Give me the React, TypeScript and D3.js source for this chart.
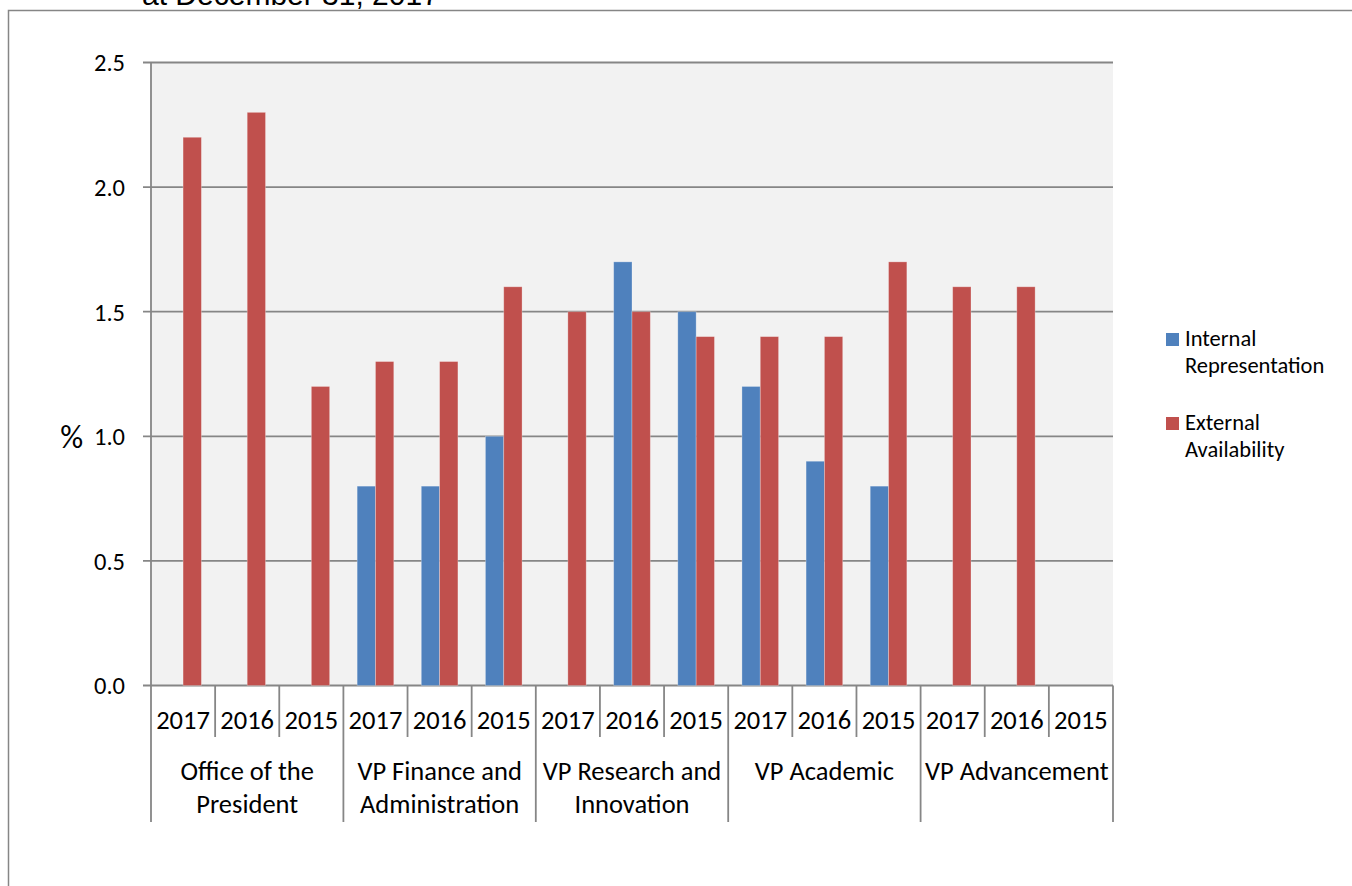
import React from "react";
import * as d3 from "d3";

const years = ["2017", "2016", "2015"];
const groupLines = [
  ["Office of the", "President"],
  ["VP Finance and", "Administration"],
  ["VP Research and", "Innovation"],
  ["VP Academic"],
  ["VP Advancement"],
];
const seriesNames = ["Internal Representation", "External Availability"];
const seriesColors = ["#4f81bd", "#c0504d"];
const internalRepresentation: (number | null)[] = [
  null, null, null,
  0.8, 0.8, 1.0,
  null, 1.7, 1.5,
  1.2, 0.9, 0.8,
  null, null, null,
];
const externalAvailability: (number | null)[] = [
  2.2, 2.3, 1.2,
  1.3, 1.3, 1.6,
  1.5, 1.5, 1.4,
  1.4, 1.4, 1.7,
  1.6, 1.6, null,
];
const yTicks = [0, 0.5, 1.0, 1.5, 2.0, 2.5];
const titleText = "at December 31, 2017";

const W = 1352;
const H = 886;
const plot = { left: 151, right: 1113, top: 62.5, bottom: 685.5 };
const GRID = "#868686";
const FONT = "Carlito, Calibri, Lato, sans-serif";

export default function App() {
  const cells = d3.range(groupLines.length * years.length);
  const x = d3
    .scaleBand<number>()
    .domain(cells)
    .range([plot.left, plot.right])
    .padding(0);
  const inner = d3
    .scaleBand<number>()
    .domain([0, 1])
    .range([0, x.bandwidth()])
    .paddingInner(0)
    .paddingOuter(0.75);
  const y = d3.scaleLinear().domain([0, 2.5]).range([plot.bottom, plot.top]);
  const series = [internalRepresentation, externalAvailability];
  const groupW = x.bandwidth() * years.length;

  return (
    <svg
      width={W}
      height={H}
      style={{ position: "absolute", left: 0, top: 0 }}
      fontFamily={FONT}
    >
      <rect width={W} height={H} fill="#ffffff" />
      {/* outer chart border */}
      <rect
        x={8.5}
        y={10.5}
        width={W + 20}
        height={H + 20}
        fill="none"
        stroke={GRID}
        strokeWidth={1.5}
      />
      <text
        x={142}
        y={4.5}
        fontFamily="'Liberation Sans', Arial, sans-serif"
        fontSize={30}
        fill="#000"
      >
        {titleText}
      </text>

      {/* plot area */}
      <rect
        x={plot.left}
        y={plot.top}
        width={plot.right - plot.left}
        height={plot.bottom - plot.top}
        fill="#f2f2f2"
      />
      {yTicks.map((t) => (
        <g key={t}>
          <line
            x1={143}
            x2={plot.right}
            y1={y(t)}
            y2={y(t)}
            stroke={GRID}
            strokeWidth={1.8}
          />
          <text
            x={125}
            y={y(t)}
            dy="0.36em"
            textAnchor="end"
            fontSize={24.5}
            fill="#000"
          >
            {t.toFixed(1)}
          </text>
        </g>
      ))}
      <text x={83} y={y(1.0)} dy="0.36em" textAnchor="end" fontSize={32} fill="#000">
        %
      </text>

      {/* bars */}
      {series.map((vals, si) =>
        vals.map((v, i) =>
          v == null ? null : (
            <rect
              key={`${si}-${i}`}
              x={(x(i) as number) + (inner(si) as number)}
              y={y(v)}
              width={inner.bandwidth()}
              height={y(0) - y(v)}
              fill={seriesColors[si]}
              stroke="rgba(255,255,255,0.35)"
              strokeWidth={0.8}
            />
          )
        )
      )}

      {/* axes */}
      <line x1={plot.left} x2={plot.left} y1={plot.top} y2={822} stroke={GRID} strokeWidth={1.8} />
      {cells.map((i) => {
        const xs = (x(i) as number) + x.bandwidth();
        const isGroupEnd = (i + 1) % years.length === 0;
        return (
          <line
            key={`sep-${i}`}
            x1={xs}
            x2={xs}
            y1={plot.bottom}
            y2={isGroupEnd ? 822 : 737}
            stroke={GRID}
            strokeWidth={1.8}
          />
        );
      })}
      {cells.map((i) => (
        <text
          key={`yr-${i}`}
          x={(x(i) as number) + x.bandwidth() / 2}
          y={729}
          textAnchor="middle"
          fontSize={26.5}
          fill="#000"
        >
          {years[i % years.length]}
        </text>
      ))}
      {groupLines.map((lines, gi) => (
        <text
          key={`g-${gi}`}
          x={plot.left + gi * groupW + groupW / 2}
          y={780}
          textAnchor="middle"
          fontSize={26.5}
          fill="#000"
        >
          {lines.map((l, li) => (
            <tspan key={li} x={plot.left + gi * groupW + groupW / 2} y={780 + li * 33}>
              {l}
            </tspan>
          ))}
        </text>
      ))}

      {/* legend */}
      {seriesNames.map((name, si) => {
        const words = name.split(" ");
        const top = 333 + si * 84;
        return (
          <g key={name}>
            <rect x={1166} y={top} width={13} height={13} fill={seriesColors[si]} />
            {words.map((w, wi) => (
              <text key={wi} x={1185} y={top + 13 + wi * 27} fontSize={22.5} fill="#000">
                {w}
              </text>
            ))}
          </g>
        );
      })}
    </svg>
  );
}
